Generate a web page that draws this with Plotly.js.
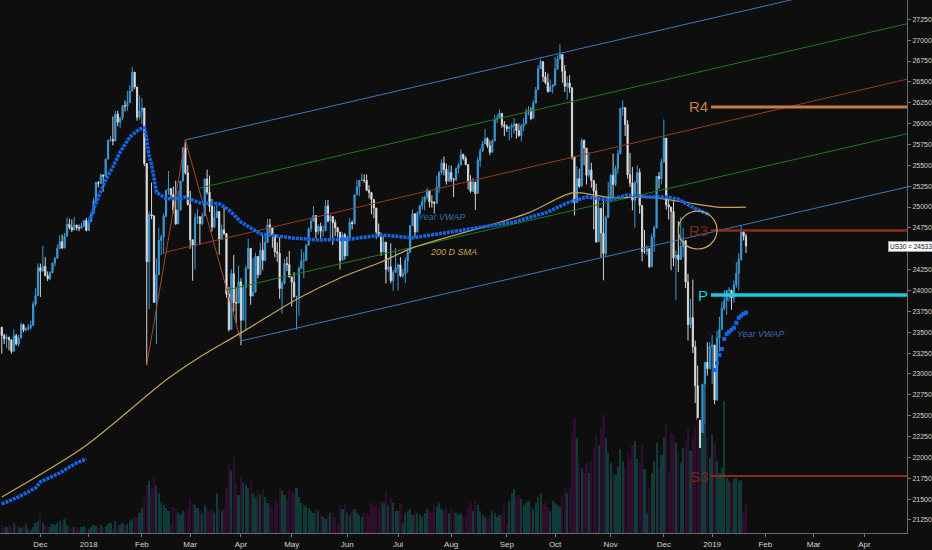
<!DOCTYPE html>
<html><head><meta charset="utf-8">
<script src="https://cdn.plot.ly/plotly-3.0.1.min.js"></script>
<style>html,body{margin:0;padding:0;background:#0e0e0e;}#chart{width:932px;height:550px;}</style>
</head><body><div id="chart"></div>
<script>
// ---------- data ----------
const firstBarDate = '2017-11-09';
const closedDays = ['2017-12-25','2018-01-01','2018-03-30','2018-12-25','2019-01-01'];
const firstOpen = 23560;

const closes = [
// Nov 2017
23461,23422,23439,23409,23271,23458,23358,23430,23590,23526,23540,23557,23580,23836,23940,24272,
// Dec 2017
24231,24290,24180,24140,24212,24329,24386,24504,24585,24509,24651,24792,24754,24726,24782,24754,24746,24774,24837,24719,
// Jan 2018
24824,24922,25075,25295,25283,25385,25369,25574,25803,25810,25792,26116,26017,26071,26214,26210,26252,26392,26616,26439,26076,26149,
// Feb
26186,25521,24345,24912,24893,23860,24190,24601,24640,24893,25200,25219,25150,24964,24798,24962,25310,25709,25410,25029,
// Mar
24608,24538,24874,24884,24801,24895,25336,25178,25008,24758,24873,24946,24611,24727,24683,23958,23533,24202,23857,23849,24103,
// Apr
23644,24034,24264,24505,23933,23979,24408,24190,24483,24360,24574,24787,24748,24665,24463,24448,24024,24084,24322,24311,24163,
// May
24100,23925,23930,24263,24357,24361,24542,24740,24831,24899,24706,24768,24714,24715,25013,24834,24887,24812,24753,24700,24362,24668,24416,
// Jun
24635,24814,24799,25146,25241,25317,25322,25320,25201,25175,25090,24988,24700,24658,24462,24581,24253,24284,24117,24216,24271,
// Jul
24307,24175,24200,24357,24456,24776,24920,24700,24925,25019,25064,25120,25199,25064,25058,25044,25241,25415,25527,25451,25307,25415,
// Aug
25333,25327,25463,25502,25629,25584,25509,25313,25188,25299,25162,25558,25669,25758,25822,25733,25656,25790,26049,26064,26124,25986,25965,
// Sep
25940,25952,25975,25995,25916,25857,25971,25998,26145,26154,26062,26246,26405,26657,26743,26562,26492,26385,26439,26458,
// Oct
26651,26773,26828,26627,26447,26486,26430,25599,25053,25340,25250,25798,25706,25380,25444,25318,25191,24583,24985,24689,24443,24875,25116,
// Nov
25381,25270,25462,25636,26181,26191,25989,25387,25287,25081,25290,25414,25018,24465,24465,24500,24286,24640,24749,25367,25339,25538,
// Dec 2018
25826,25027,25000,24947,24389,24424,24371,24527,24597,24101,23593,23676,23324,22860,22446,21792,22878,23139,23062,23327,
// Jan 2019
23346,22686,23433,23531,23787,23879,24001,24003,23910,24066,24207,24370,24706,24650,24533
];
const highs = [
23516,23483,23476,23446,23364,23533,23480,23467,23617,23602,23560,23600,23638,23870,24030,24327,
24322,24534,24399,24229,24231,24330,24400,24552,24660,24670,24690,24876,24860,24850,24880,24790,24790,24810,24843,24871,
24864,24942,25105,25299,25311,25401,25374,25580,25804,25850,26086,26154,26153,26072,26215,26278,26393,26459,26680,26609,26338,26338,
26306,26061,25520,24946,25294,24903,24382,24753,24668,24924,25201,25432,25230,25245,25316,25196,25312,25710,25800,25500,
25194,24556,24924,24977,24832,24932,25336,25449,25378,25098,25012,25037,24910,24788,24997,24564,24041,24256,24424,24040,24298,
24146,24070,24295,24622,24460,24389,24452,24333,24573,24662,24662,24858,24858,24678,24652,24576,24640,24120,24378,24405,24474,
24134,24220,23932,24290,24495,24464,24553,24756,24872,25012,24820,24795,24814,24778,25086,25085,24910,24882,24850,24760,24650,24700,24690,
24660,24868,24840,25147,25326,25327,25402,25391,25390,25261,25176,25026,24852,24803,24695,24658,24511,24386,24564,24245,24512,
24322,24400,24260,24393,24512,24782,24970,24797,24950,25025,25125,25135,25231,25160,25140,25067,25375,25430,25572,25606,25520,25500,
25496,25350,25474,25528,25692,25640,25610,25400,25380,25350,25230,25600,25710,25793,25936,25835,25797,25813,26101,26112,26169,26112,26030,
25990,25977,26000,26066,26000,26001,25999,26070,26178,26209,26195,26281,26440,26700,26769,26740,26620,26600,26530,26475,
26800,26817,26951,26824,26700,26565,26580,26400,25600,25490,25460,25820,25810,25700,25660,25530,25210,25280,25080,24790,25130,24900,25300,
25400,25640,25500,25690,26190,26277,26180,26040,25650,25480,25310,25500,25460,24780,24725,24540,24510,24680,24780,25370,25420,25580,
26050,25790,25100,24960,25070,24480,24830,24880,24750,24470,24200,23900,24130,23400,23100,22340,22880,23140,23380,23380,
23466,23177,23518,23687,23864,24000,24001,24040,23960,24120,24340,24450,24777,24720,24680
];
const lows = [
23243,23360,23310,23283,23242,23316,23339,23330,23470,23500,23510,23520,23530,23575,23810,23990,
23922,24260,24170,24113,24128,24220,24290,24390,24500,24500,24530,24700,24730,24700,24740,24720,24710,24740,24760,24710,
24742,24825,24966,25112,25235,25291,25186,25375,25585,25780,25739,25856,25968,25942,26041,26147,26153,26286,26435,26416,26034,26052,
25992,25490,23107,23778,24853,23849,23360,24249,24425,24436,24874,25146,25100,24924,24787,24844,25012,25391,25388,25020,
24500,24117,24250,24796,24550,24780,25000,25150,24942,24705,24761,24878,24429,24617,24662,23913,23509,23628,23746,23611,23855,
23344,23695,23517,24317,23829,23953,24149,24145,24236,24244,24427,24642,24684,24513,24398,24344,23900,23723,24070,24234,24156,
23808,23914,23531,23700,24277,24149,24352,24560,24700,24835,24629,24670,24592,24644,24800,24815,24615,24545,24650,24640,24252,24390,24370,
24450,24640,24731,24810,25160,25130,25320,25290,25190,25102,24912,24866,24620,24640,24413,24472,24084,24218,24086,23997,24244,
23997,24160,24150,24088,24212,24500,24800,24640,24740,24910,24970,24960,25090,24995,24994,24922,25125,25170,25390,25380,25270,25330,
25300,25120,25310,25402,25540,25560,25500,25210,25170,25200,24965,25250,25480,25670,25790,25710,25620,25670,25860,26005,26060,25950,25850,
25900,25800,25830,25880,25820,25840,25785,25910,26010,26100,26040,26060,26245,26480,26660,26500,26470,26370,26410,26360,
26560,26650,26800,26490,26380,26290,26370,25570,24899,25100,25230,25320,25500,25270,25350,25230,24730,24570,24650,24400,24122,24400,24950,
25100,25100,25250,25400,25700,26090,25850,25340,25240,24960,24750,25130,24920,24350,24440,24420,24268,24330,24460,24750,25220,25270,
25650,24970,24850,24242,24290,23881,24220,24500,24400,24030,23400,23550,23250,22650,22400,21650,21700,22270,22980,23120,
22879,22638,22859,23266,23530,23758,23706,23870,23770,23850,24030,24000,24360,24600,24450
];
const volumes = [
8,5,6,9,7,10,8,6,5,7,9,4,3,6,10,12,
20,10,8,7,6,9,8,10,12,9,14,8,7,6,6,5,4,6,7,5,
4,6,8,7,5,8,6,7,9,10,4,12,9,8,10,8,9,12,14,16,15,20,
25,35,48,52,45,55,47,40,30,28,25,22,8,26,24,20,18,22,20,25,
35,30,28,25,22,20,28,25,22,24,20,40,25,22,24,45,70,62,76,50,38,
57,50,48,45,52,40,36,42,38,44,36,30,28,26,30,32,45,42,38,34,44,
42,40,45,36,30,28,26,25,22,20,24,22,18,16,14,18,20,22,16,10,28,24,30,
20,18,22,24,20,18,16,22,20,18,30,26,28,26,32,30,42,28,36,30,22,
22,30,10,20,22,24,18,22,20,18,16,20,24,22,20,28,26,30,24,22,26,20,
24,22,20,18,20,16,18,26,30,22,32,28,22,18,16,14,18,22,20,16,18,20,28,
10,32,40,44,36,38,34,28,30,32,26,24,30,36,40,28,30,26,22,32,
30,28,26,36,46,40,44,100,115,95,70,65,60,70,60,72,85,98,88,105,118,95,80,
70,62,58,66,84,72,64,80,75,88,92,74,70,88,64,20,45,60,72,90,65,78,
95,110,60,100,98,90,80,70,85,92,105,82,95,108,115,85,100,109,95,75,
99,90,72,60,65,132,55,52,50,54,55,52,53,20,29
];

// Year VWAP (anchored yearly)
const vwap2017Dates  = ['2017-11-09','2017-11-20','2017-11-29','2017-12-01','2017-12-13','2017-12-22','2017-12-29'];
const vwap2017Values = [21442,21526,21634,21706,21814,21934,21982];
const vwap2018Dates  = ['2018-01-02','2018-01-05','2018-01-11','2018-01-16','2018-01-19','2018-01-25','2018-01-31','2018-02-02','2018-02-05','2018-02-06','2018-02-07','2018-02-08','2018-02-09','2018-02-15','2018-02-23','2018-02-27','2018-03-07','2018-03-19','2018-03-23','2018-04-02','2018-04-12','2018-05-01','2018-05-16','2018-06-04','2018-06-21','2018-07-10','2018-07-30','2018-08-17','2018-09-06','2018-09-26','2018-10-08','2018-10-18','2018-10-31','2018-11-12','2018-11-22','2018-12-04','2018-12-11','2018-12-19','2018-12-31'];
const vwap2018Values = [24809,25049,25325,25480,25660,25840,25935,25950,25815,25600,25515,25360,25180,25100,25100,25120,25050,25040,24965,24820,24680,24630,24605,24615,24665,24630,24690,24750,24820,24940,25050,25120,25085,25145,25120,25120,25095,24995,24905];
const vwap2019Dates  = ['2019-01-03','2019-01-04','2019-01-07','2019-01-08','2019-01-09','2019-01-10','2019-01-11','2019-01-14','2019-01-15','2019-01-16','2019-01-17','2019-01-18','2019-01-21','2019-01-22'];
const vwap2019Values = [23047,23130,23228,23300,23420,23480,23505,23530,23553,23613,23672,23697,23721,23735];

// 200 day SMA
const smaDates  = ['2017-11-09','2017-12-28','2018-02-15','2018-03-07','2018-04-02','2018-05-04','2018-05-29','2018-06-21','2018-07-10','2018-08-17','2018-09-14','2018-10-10','2018-10-23','2018-11-02','2018-11-23','2018-12-13','2019-01-04','2019-01-22'];
const smaValues = [21526,22125,22928,23204,23492,23910,24150,24342,24510,24750,24930,25170,25145,25110,25120,25060,25000,25000];

// Drawn pitchfork / channel lines
const zigzagDates = ['2018-02-05','2018-02-27','2018-04-02'];
const zigzagPrices = [23107,25804,23395];
const upperBlueDates = ['2018-02-27','2019-04-26'];  const upperBluePrices = [25804,27812];
const medianRedDates = ['2018-02-15','2019-04-26'];  const medianRedPrices = [24461,26541];
const upperGreenDates = ['2018-03-07','2019-04-26']; const upperGreenPrices = [25228,27206];
const lowerGreenDates = ['2018-03-22','2019-04-26']; const lowerGreenPrices = [24006,25888];
const lowerBlueDates = ['2018-04-02','2019-04-26'];  const lowerBluePrices = [23395,25249];

// Pivot levels
const pivotNames  = ['R4','R3','P','S3'];
const pivotLevels = [26200,24720,23946,21777];
const pivotColors = ['#c97b45','#8e2c18','#19cfdf','#8e2c18'];
const pivotLabelColors = ['#c97b45','#7e2a18','#19cfdf','#7e2a18'];
const pivotWidths = [3,2.5,3.5,2];
const pivotStart = '2019-01-02', pivotEnd = '2019-04-26';

const lastPrice = 24533;
const priceTicks = [21250,21500,21750,22000,22250,22500,22750,23000,23250,23500,23750,24000,24250,24750,25000,25250,25500,25750,26000,26250,26500,26750,27000,27250];
const monthNames = ['Jan','Feb','Mar','Apr','May','Jun','Jul','Aug','Sep','Oct','Nov','Dec'];

// ---------- build ----------
const barDates = [];
{
  let t = Date.parse(firstBarDate + 'T00:00:00Z');
  const end = Date.parse('2019-05-31T00:00:00Z');
  while (t <= end) {
    const d = new Date(t); const wd = d.getUTCDay(); const s = d.toISOString().slice(0,10);
    if (wd !== 0 && wd !== 6 && closedDays.indexOf(s) < 0) barDates.push(s);
    t += 86400000;
  }
}
const pos = {}; barDates.forEach((s,i)=>{pos[s]=i;});
const P = s => pos[s];

const n = closes.length;
const xs = [], opens = [], hi = [], lo = [], volColors = [];
for (let i=0;i<n;i++){
  xs.push(i);
  const o = i===0 ? firstOpen : closes[i-1];
  opens.push(o);
  hi.push(Math.max(highs[i], o, closes[i]));
  lo.push(Math.min(lows[i], o, closes[i]));
  volColors.push(closes[i] >= o ? '#0f3b38' : '#2d0f2d');
}

// month ticks
const tickvals = [], ticktext = [];
for (let i=1;i<barDates.length;i++){
  const a = barDates[i-1].slice(0,7), b = barDates[i].slice(0,7);
  if (a !== b && barDates[i] >= '2017-12-01' && barDates[i] <= '2019-04-30'){
    const m = parseInt(barDates[i].slice(5,7),10);
    tickvals.push(i);
    ticktext.push(m===1 ? barDates[i].slice(0,4) : monthNames[m-1]);
  }
}

const lineTrace = (dates, prices, color, width) => ({
  type:'scatter', mode:'lines', x:dates.map(P), y:prices,
  line:{color:color, width:width||1}, hoverinfo:'skip', cliponaxis:true
});

const traces = [];
traces.push({type:'bar', x:xs, y:volumes, yaxis:'y2', width:0.9,
  marker:{color:volColors, line:{width:0}}, hoverinfo:'skip'});
traces.push(lineTrace(upperBlueDates, upperBluePrices, '#3f77bf', 1));
traces.push(lineTrace(lowerBlueDates, lowerBluePrices, '#3f77bf', 1));
traces.push(lineTrace(upperGreenDates, upperGreenPrices, '#1f7a1f', 1));
traces.push(lineTrace(lowerGreenDates, lowerGreenPrices, '#1f7a1f', 1));
traces.push(lineTrace(medianRedDates, medianRedPrices, '#9c3a22', 1));
traces.push(lineTrace(zigzagDates, zigzagPrices, '#a4482a', 1));
traces.push({type:'candlestick', x:xs, open:opens, high:hi, low:lo, close:closes,
  increasing:{line:{color:'#3c9ad6', width:1}, fillcolor:'#2f8fd0'},
  decreasing:{line:{color:'#d4d4d4', width:1}, fillcolor:'#ffffff'},
  whiskerwidth:0, hoverinfo:'skip'});
traces.push({type:'scatter', mode:'lines', x:smaDates.map(P), y:smaValues,
  line:{color:'#c4a25e', width:1.2, shape:'spline', smoothing:0.8}, hoverinfo:'skip'});
const vwapLine = {color:'#1466e8', width:3.5, dash:'3px,1px'};
traces.push({type:'scatter', mode:'lines', x:vwap2017Dates.map(P), y:vwap2017Values, line:vwapLine, hoverinfo:'skip'});
traces.push({type:'scatter', mode:'lines', x:vwap2018Dates.map(P), y:vwap2018Values, line:vwapLine, hoverinfo:'skip'});
traces.push({type:'scatter', mode:'markers', x:vwap2019Dates.map(P), y:vwap2019Values,
  marker:{color:'#1466e8', size:4, symbol:'square'}, hoverinfo:'skip'});

const shapes = [];
const annotations = [];
pivotNames.forEach((nm,k)=>{
  shapes.push({type:'line', xref:'x', yref:'y', x0:P(pivotStart)-0.5, x1:P(pivotEnd)+2,
    y0:pivotLevels[k], y1:pivotLevels[k], line:{color:pivotColors[k], width:pivotWidths[k]}});
  annotations.push({xref:'x', yref:'y', x:P(pivotStart)-0.5, y:pivotLevels[k], text:nm,
    xanchor:'right', yanchor:'middle', xshift:-1, showarrow:false,
    font:{family:'Liberation Sans, Arial, sans-serif', size:15, color:pivotLabelColors[k]}});
});
shapes.push({type:'circle', xref:'x', yref:'y', x0:P('2018-12-11'), x1:P('2019-01-04'),
  y0:24497, y1:24952, line:{color:'#c8a862', width:1.2}});

annotations.push({xref:'x', yref:'y', x:P('2018-07-26'), y:24881, text:'<i>Year VWAP</i>', showarrow:false,
  font:{family:'Liberation Sans, Arial, sans-serif', size:9, color:'#3a6cb0'}});
annotations.push({xref:'x', yref:'y', x:P('2018-08-02'), y:24461, text:'<i>200 D SMA</i>', showarrow:false,
  font:{family:'Liberation Sans, Arial, sans-serif', size:9, color:'#c4a25e'}});
annotations.push({xref:'x', yref:'y', x:P('2019-01-30'), y:23479, text:'<i>Year VWAP</i>', showarrow:false,
  font:{family:'Liberation Sans, Arial, sans-serif', size:9, color:'#3a6cb0'}});
annotations.push({xref:'paper', yref:'y', x:888/907, y:lastPrice, text:'US30 = ' + lastPrice,
  xanchor:'left', yanchor:'middle', showarrow:false, bgcolor:'#ffffff', bordercolor:'#9a9a9a',
  borderwidth:1, borderpad:1, font:{family:'Liberation Sans, Arial, sans-serif', size:6.5, color:'#111'}});

const axFont = {family:'Liberation Sans, Arial, sans-serif', size:8, color:'#d4d4d4'};
const yFont = {family:'Liberation Sans, Arial, sans-serif', size:7, color:'#d4d4d4'};
const layout = {
  width:932, height:550,
  margin:{l:0, r:25, t:0, b:17, pad:0},
  paper_bgcolor:'#0e0e0e', plot_bgcolor:'#0e0e0e',
  showlegend:false, bargap:0, hovermode:false,
  xaxis:{range:[-0.72, 374.63], tickvals:tickvals, ticktext:ticktext, ticks:'outside', ticklen:3,
    tickcolor:'#777', showline:true, linecolor:'#6a6a6a', linewidth:1, showgrid:false, zeroline:false,
    tickfont:axFont, rangeslider:{visible:false}, fixedrange:true},
  yaxis:{side:'right', range:[21094, 27481], tickvals:priceTicks, ticktext:priceTicks.map(String), ticks:'outside',
    ticklen:3, tickcolor:'#777', showline:true, linecolor:'#6a6a6a', linewidth:1, showgrid:false,
    zeroline:false, tickfont:yFont, fixedrange:true},
  yaxis2:{overlaying:'y', range:[0,533], visible:false, fixedrange:true},
  shapes:shapes, annotations:annotations
};
Plotly.newPlot('chart', traces, layout, {displayModeBar:false, staticPlot:true});
</script>
</body></html>
